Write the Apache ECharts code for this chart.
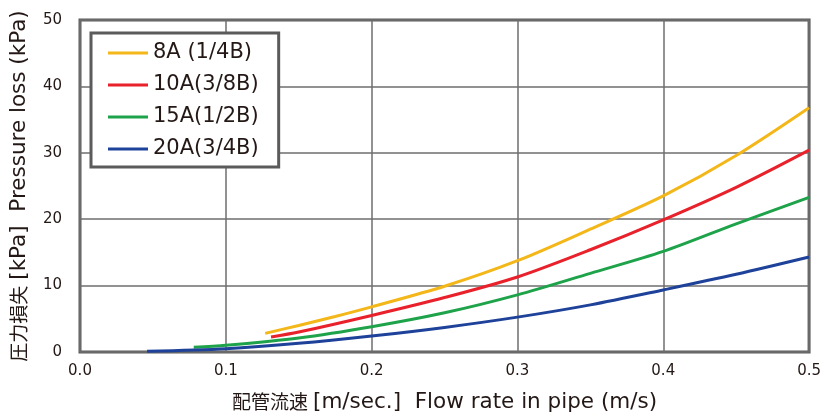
<!DOCTYPE html>
<html>
<head>
<meta charset="utf-8">
<script src="https://cdn.jsdelivr.net/npm/echarts@6/dist/echarts.min.js"></script>
<style>
html,body{margin:0;padding:0;background:#fff;}
#chart{width:824px;height:419px;}
</style>
</head>
<body>
<div id="chart"></div>
<script>
// ---- data ----
const seriesNames = ['8A (1/4B)', '10A(3/8B)', '15A(1/2B)', '20A(3/4B)'];
const seriesColors = ['#F4B719', '#E8212B', '#1FA34A', '#1E429A'];

const x8A  = [0.127, 0.15, 0.175, 0.2, 0.25, 0.3, 0.35, 0.4, 0.45, 0.5];
const y8A  = [2.8, 4.0, 5.35, 6.8, 9.9, 13.75, 18.5, 23.5, 29.6, 36.8];

const x10A = [0.131, 0.15, 0.2, 0.25, 0.3, 0.35, 0.4, 0.45, 0.5];
const y10A = [2.25, 3.0, 5.5, 8.2, 11.3, 15.4, 19.9, 24.8, 30.4];

const x15A = [0.078, 0.1, 0.15, 0.2, 0.25, 0.3, 0.35, 0.4, 0.45, 0.5];
const y15A = [0.7, 1.0, 2.1, 3.8, 5.9, 8.6, 11.85, 15.15, 19.3, 23.3];

const x20A = [0.046, 0.1, 0.15, 0.2, 0.25, 0.3, 0.35, 0.4, 0.45, 0.5];
const y20A = [0.1, 0.5, 1.3, 2.4, 3.7, 5.25, 7.1, 9.35, 11.7, 14.3];

const xTicks = [0.0, 0.1, 0.2, 0.3, 0.4, 0.5];
const yTicks = [0, 10, 20, 30, 40, 50];

const xNameJa = '配管流速';
const xNameEn = '[m/sec.]  Flow rate in pipe (m/s)';
const yNameJa = '圧力損失';
const yNameEn = '[kPa]  Pressure loss (kPa)';

// ---- chart ----
const zip = (xs, ys) => xs.map((x, i) => [x, ys[i]]);
const allX = [x8A, x10A, x15A, x20A];
const allY = [y8A, y10A, y15A, y20A];

const cjk = '"Noto Sans CJK JP", sans-serif';
const lat = '"DejaVu Sans", sans-serif';
const textColor = '#231815';

const chart = echarts.init(document.getElementById('chart'), null, {renderer: 'canvas'});
chart.setOption({
  animation: false,
  backgroundColor: '#ffffff',
  grid: {
    left: 77, right: 13, top: 20, bottom: 67,
    show: true, borderColor: '#5b5b5b', borderWidth: 3, backgroundColor: 'transparent'
  },
  legend: {
    orient: 'vertical',
    left: 91, top: 33,
    padding: [9, 20, 7, 17],
    itemGap: 10,
    itemWidth: 40, itemHeight: 3,
    icon: 'rect',
    backgroundColor: '#ffffff',
    borderColor: '#5b5b5b', borderWidth: 3,
    textStyle: {fontFamily: lat, fontSize: 21, color: textColor, lineHeight: 22},
    data: seriesNames
  },
  xAxis: {
    type: 'value',
    min: xTicks[0], max: xTicks[xTicks.length - 1], interval: 0.1,
    name: '{ja|' + xNameJa + '}{en|' + xNameEn + '}',
    nameLocation: 'middle',
    nameGap: 39,
    nameTextStyle: {
      color: textColor,
      rich: {
        ja: {fontFamily: cjk, fontSize: 19, color: textColor, padding: [0, 5, 0, 0]},
        en: {fontFamily: lat, fontSize: 21.5, color: textColor}
      }
    },
    axisLine: {show: false},
    axisTick: {show: false},
    axisLabel: {
      margin: 12, fontFamily: lat, fontSize: 15, color: textColor,
      formatter: v => v.toFixed(1)
    },
    splitLine: {show: true, lineStyle: {color: '#6e6e6e', width: 1.5}}
  },
  yAxis: {
    type: 'value',
    min: yTicks[0], max: yTicks[yTicks.length - 1], interval: 10,
    name: '{ja|' + yNameJa + '}{en|' + yNameEn + '}',
    nameLocation: 'middle',
    nameRotate: 90,
    nameGap: 50,
    nameTextStyle: {
      color: textColor,
      rich: {
        ja: {fontFamily: cjk, fontSize: 19, color: textColor, padding: [0, 6, 0, 0]},
        en: {fontFamily: lat, fontSize: 21.5, color: textColor}
      }
    },
    axisLine: {show: false},
    axisTick: {show: false},
    axisLabel: {margin: 18, fontFamily: lat, fontSize: 15, color: textColor},
    splitLine: {show: true, lineStyle: {color: '#6e6e6e', width: 1.5}}
  },
  series: seriesNames.map((name, i) => ({
    name: name,
    type: 'line',
    data: zip(allX[i], allY[i]),
    smooth: 0.3,
    showSymbol: false,
    symbol: 'none',
    color: seriesColors[i],
    lineStyle: {color: seriesColors[i], width: 3},
    z: 3
  }))
});
</script>
</body>
</html>
